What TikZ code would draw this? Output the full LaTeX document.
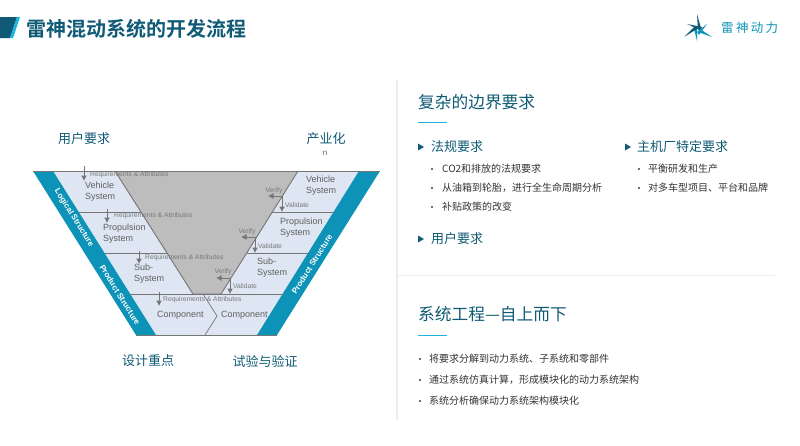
\documentclass[tikz,border=0pt]{standalone}
\usepackage{fontspec}
\setmainfont{Liberation Sans}
\newfontfamily\cjkfont{Noto Sans CJK SC}
\newfontfamily\cjkbold{Noto Sans CJK SC}[BoldFont={Noto Sans CJK SC Bold}]
\usetikzlibrary{arrows.meta}
\definecolor{tealdark}{HTML}{0F5A75}
\definecolor{bandblue}{HTML}{0E93B8}
\definecolor{skyline}{HTML}{1CB5E0}
\definecolor{panelblue}{HTML}{DDE6F2}
\definecolor{coregray}{HTML}{BDBDBD}
\definecolor{wiregray}{HTML}{757575}
\definecolor{inkgray}{HTML}{606060}
\definecolor{rulegray}{HTML}{ECECEC}
\tikzset{
  sysname/.style={anchor=west, inner sep=0pt, align=left, text=inkgray, font=\fontsize{9}{11}\selectfont},
  tiny/.style={anchor=west, inner sep=0pt, text=inkgray!85, font=\fontsize{6.7}{8}\selectfont},
  tinyc/.style={inner sep=0pt, text=inkgray!85, font=\fontsize{6.7}{8}\selectfont},
  bandname/.style={inner sep=0pt, text=white, font=\bfseries\fontsize{8.1}{10}\selectfont},
  head/.style={inner sep=0pt, text=tealdark, font=\cjkfont\fontsize{13}{15}\selectfont},
  headl/.style={head, anchor=west},
  bigh/.style={anchor=west, inner sep=0pt, text=tealdark, font=\cjkfont\fontsize{16.7}{19}\selectfont},
  item/.style={anchor=west, inner sep=0pt, text=black!80, font=\cjkfont\fontsize{10}{12}\selectfont},
  dot/.style={circle, fill=black!75, inner sep=0pt, minimum size=2.4pt},
  wire/.style={draw=wiregray, line width=0.9pt},
  arr/.style={draw=wiregray, line width=1pt, -{Latex[length=5.5pt,width=6pt]}}
}
\newcommand{\headmark}[2]{\fill[tealdark] (#1,#2-3.5) -- (#1+6,#2) -- (#1,#2+3.5) -- cycle;}
\begin{document}
\begin{tikzpicture}[x=1pt, y=-1pt]
\useasboundingbox (0,0) rectangle (800,445);
% header
\fill[tealdark] (0,17) -- (17,17) -- (10,38) -- (0,38) -- cycle;
\fill[skyline] (17,17) -- (20,17) -- (13,38) -- (10,38) -- cycle;
\node[anchor=west, inner sep=0pt, text=tealdark, font=\cjkbold\bfseries\fontsize{20}{22}\selectfont] (title) at (26,29) {雷神混动系统的开发流程};
\fill[tealdark] (697,14) -- (701,28) -- (698,30) -- cycle;
\fill[bandblue] (712,37) -- (698,32) -- (700,29) -- cycle;
\fill[bandblue] (697,41) -- (694,29) -- (697,28) -- cycle;
\fill[tealdark] (684,37) -- (695,26) -- (697,29) -- cycle;
\fill[tealdark] (687,24) -- (702,27) -- (700,30) -- cycle;
\fill[bandblue] (707,24) -- (699,35) -- (697,32) -- cycle;
\node[anchor=west, inner sep=0pt, text=bandblue, font=\cjkfont\fontsize{12.5}{14}\selectfont] (brand) at (721,28) {雷\hspace{2.3pt}神\hspace{2.3pt}动\hspace{2.3pt}力};
% trapezoid
\fill[panelblue] (53,171) -- (359,171) -- (257,335) -- (156,335) -- cycle;
\fill[bandblue] (33,171) -- (53,171) -- (156,335) -- (136,335) -- cycle;
\fill[bandblue] (359,171) -- (380,171) -- (277,335) -- (257,335) -- cycle;
\filldraw[fill=coregray, wire] (115,171) -- (193,294) -- (221,294) -- (298,171);
\draw[wire] (33,171) -- (380,171);
\draw[wire] (136,335) -- (277,335);
\draw[wire] (79,212) -- (141,212);
\draw[wire] (272,212) -- (334,212);
\draw[wire] (104,253) -- (167,253);
\draw[wire] (247,253) -- (308,253);
\draw[wire] (130,294) -- (283,294);
\draw[draw=wiregray, line width=0.7pt] (203,294) -- (217,316) -- (205,335);
\node[bandname, rotate=-58] (logical) at (74,218) {Logical Structure};
\node[bandname, rotate=-58] (productl) at (120,295) {Product Structure};
\node[bandname, rotate=58] (productr) at (312,264) {Product Structure};
% left leg
\node[sysname] (veh1) at (85,192) {Vehicle\\System};
\node[sysname] (pro1) at (103,234) {Propulsion\\System};
\node[sysname] (sub1) at (134,274) {Sub-\\System};
\node[sysname] (com1) at (157,315) {Component};
\node[tiny] (req1) at (90,175) {Requirements \& Attributes};
\node[tiny] (req2) at (114,216) {Requirements \& Attributes};
\node[tiny] (req3) at (145,258) {Requirements \& Attributes};
\node[tiny] (req4) at (163,300) {Requirements \& Attributes};
\coordinate (a1) at (84,166); \coordinate (b1) at (84,181);
\coordinate (a2) at (107,209); \coordinate (b2) at (107,223);
\coordinate (a3) at (139,251); \coordinate (b3) at (139,264);
\coordinate (a4) at (159,292); \coordinate (b4) at (159,306);
\draw[arr] (a1) -- (b1);
\draw[arr] (a2) -- (b2);
\draw[arr] (a3) -- (b3);
\draw[arr] (a4) -- (b4);
% right leg
\node[sysname] (veh2) at (306,186) {Vehicle\\System};
\node[sysname] (pro2) at (280,228) {Propulsion\\System};
\node[sysname] (sub2) at (257,268) {Sub-\\System};
\node[sysname] (com2) at (221,315) {Component};
\node[tinyc] (ver1) at (274,191) {Verify};
\node[tinyc] (ver2) at (247,232) {Verify};
\node[tinyc] (ver3) at (223,272) {Verify};
\node[tiny] (val1) at (285,205) {Validate};
\node[tiny] (val2) at (258,246) {Validate};
\node[tiny] (val3) at (233,286) {Validate};
\coordinate (c1) at (282,196); \coordinate (d1) at (268,196); \coordinate (e1) at (282,212);
\coordinate (c2) at (255,237); \coordinate (d2) at (241,237); \coordinate (e2) at (255,253);
\coordinate (c3) at (230,278); \coordinate (d3) at (216,278); \coordinate (e3) at (230,294);
\draw[arr] (c1) -- (d1);
\draw[arr] (c1) -- (e1);
\draw[arr] (c2) -- (d2);
\draw[arr] (c2) -- (e2);
\draw[arr] (c3) -- (d3);
\draw[arr] (c3) -- (e3);
% captions
\node[head] (user) at (84,139) {用户要求};
\node[head] (indus) at (326,139) {产业化};
\node[inner sep=0pt, text=inkgray, font=\fontsize{8}{9}\selectfont] (nn) at (325,153) {n};
\node[head] (focus) at (148,361) {设计重点};
\node[head] (test) at (265,361) {试验与验证};
% separators
\draw[rulegray, line width=1.6pt] (397,80) -- (397,420);
\draw[rulegray, line width=1pt] (397,275) -- (775,275);
% boundary requirements
\node[bigh] (bound) at (418,102) {复杂的边界要求};
\draw[skyline, line width=1pt] (418,122) -- (447,122);
\headmark{418}{147}
\node[headl] (law) at (431,147) {法规要求};
\headmark{625}{147}
\node[headl] (oem) at (637,147) {主机厂特定要求};
\headmark{418}{239}
\node[headl] (cust) at (431,239) {用户要求};
\node[dot] at (432,169) {}; \node[item] (l1) at (442,169) {CO2和排放的法规要求};
\node[dot] at (432,188) {}; \node[item] (l2) at (442,188) {从油箱到轮胎，进行全生命周期分析};
\node[dot] at (432,207) {}; \node[item] (l3) at (442,207) {补贴政策的改变};
\node[dot] at (639,169) {}; \node[item] (o1) at (648,169) {平衡研发和生产};
\node[dot] at (639,188) {}; \node[item] (o2) at (648,188) {对多车型项目、平台和品牌};
% systems engineering
\node[bigh] (syseng) at (418,314) {系统工程—自上而下};
\draw[skyline, line width=1pt] (418,335) -- (447,335);
\node[dot] at (420,359) {}; \node[item] (s1) at (429,359) {将要求分解到动力系统、子系统和零部件};
\node[dot] at (420,380) {}; \node[item] (s2) at (429,380) {通过系统仿真计算，形成模块化的动力系统架构};
\node[dot] at (420,401) {}; \node[item] (s3) at (429,401) {系统分析确保动力系统架构模块化};
\end{tikzpicture}
\end{document}
